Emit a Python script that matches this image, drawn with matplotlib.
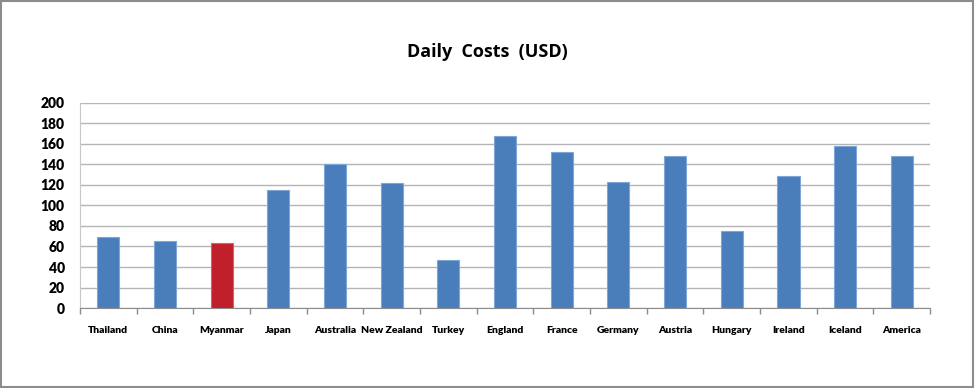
import matplotlib
matplotlib.use("Agg")
import matplotlib.pyplot as plt
from matplotlib.patches import Rectangle
import numpy as np

countries = ["Thailand", "China", "Myanmar", "Japan", "Australia", "New Zealand",
             "Turkey", "England", "France", "Germany", "Austria", "Hungary",
             "Ireland", "Iceland", "America"]
costs = [69, 65, 63, 115, 140, 122, 47, 168, 152, 123, 148, 75, 129, 158, 148]
highlight = "Myanmar"
yticks = [0, 20, 40, 60, 80, 100, 120, 140, 160, 180, 200]

plt.rcParams['font.family'] = ['Lato', 'DejaVu Sans']

fig = plt.figure(figsize=(9.75, 3.88), dpi=100)
fig.patches.append(Rectangle((0.001, 0.002), 0.997, 0.995, transform=fig.transFigure,
                             fill=False, edgecolor="#8c8c8c", linewidth=1.5))
ax = fig.add_axes([0.082, 0.206, 0.872, 0.529])

x = np.arange(len(countries))
colors = ["#c0202a" if c == highlight else "#4a7ebb" for c in countries]
edges = ["#e06060" if c == highlight else "#7ea6d8" for c in countries]
ax.bar(x, costs, width=0.39, color=colors, edgecolor=edges, linewidth=0.8, zorder=3)

ax.set_xlim(-0.5, len(countries) - 0.5)
ax.set_ylim(0, 200)
ax.set_yticks(yticks)
ax.set_yticklabels([str(v) for v in yticks], fontsize=10, fontweight="heavy")
ax.tick_params(axis="y", length=0, pad=11)
ax.yaxis.grid(True, color="#b5b5b5", linewidth=1.0, zorder=0)
ax.set_axisbelow(True)

ax.set_xticks(x)
ax.set_xticklabels(countries, fontsize=7.5, fontweight="heavy")
ax.tick_params(axis="x", length=0, pad=13)
ax.set_xticks(np.arange(-0.5, len(countries)), minor=True)
ax.tick_params(axis="x", which="minor", length=4, color="#8c8c8c", width=1)

for s in ["top", "right"]:
    ax.spines[s].set_visible(False)
ax.spines["left"].set_color("#c8c8c8")
ax.spines["bottom"].set_color("#8c8c8c")

fig.text(0.5, 0.865, "Daily  Costs  (USD)", ha="center", va="center",
         fontsize=13, fontweight="bold", family=["Open Sans", "DejaVu Sans"])

fig.savefig("out.png", dpi=100)
